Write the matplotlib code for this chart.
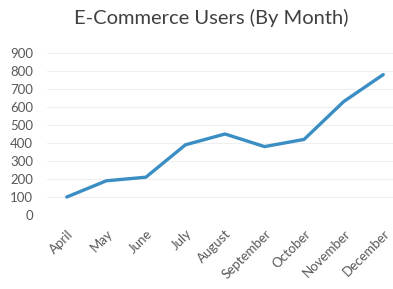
import matplotlib.pyplot as plt

months = ["April", "May", "June", "July", "August", "September",
          "October", "November", "December"]
users = [100, 190, 210, 390, 450, 380, 420, 630, 780]
y_ticks = [0, 100, 200, 300, 400, 500, 600, 700, 800, 900]

plt.rcParams["font.family"] = ["Lato", "DejaVu Sans"]

fig = plt.figure(figsize=(3.93, 2.89), dpi=100)
ax = fig.add_axes([47 / 393, 1 - 215 / 289, 356 / 393, 162 / 289])

ax.plot(range(len(months)), users, color="#3a8ec4", linewidth=2.4,
        solid_capstyle="round", solid_joinstyle="round")

ax.set_xlim(-0.5, len(months) - 0.5)
ax.set_ylim(0, 900)
ax.set_yticks(y_ticks)
ax.set_xticks(range(len(months)))
ax.set_xticklabels(months, rotation=45, ha="right", rotation_mode="anchor")
ax.tick_params(axis="both", length=0, labelsize=9.5, labelcolor="#595959")
ax.tick_params(axis="x", pad=9)
ax.tick_params(axis="y", pad=10)

ax.grid(axis="y", color="#efefef", linewidth=0.8)
ax.set_axisbelow(True)
for s in ax.spines.values():
    s.set_visible(False)

fig.text(0.537, 1 - 18 / 289, "E-Commerce Users (By Month)", ha="center",
         va="center", fontsize=14.5, color="#404040")

fig.savefig("out.png", dpi=100)
